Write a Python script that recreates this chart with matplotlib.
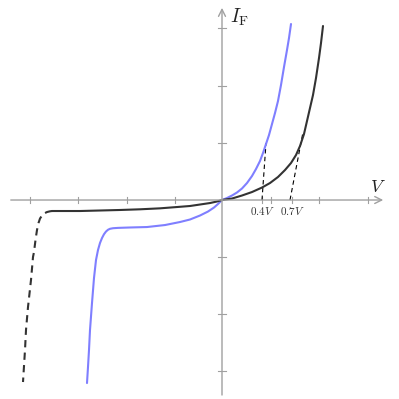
import matplotlib
matplotlib.use("Agg")
import matplotlib.pyplot as plt

plt.rcParams['mathtext.fontset'] = 'cm'

# Data (V in volts, I in arbitrary units)
black_fwd_v = [0, .10, .20, .30, .40, .48, .56, .63, .69, .74, .78, .82, .85, .88, .91, .94, .97, .99, 1.01]
black_fwd_i = [0, .026, .079, .140, .219, .298, .404, .526, .649, .789, .947, 1.158, 1.386, 1.614,
               1.842, 2.140, 2.491, 2.754, 3.053]
black_rev_v = [-1.70, -1.62, -1.42, -1.22, -1.02, -0.82, -0.62, -0.45, -0.32, -0.22, -0.12, -0.05, 0]
black_rev_i = [-0.193, -0.193, -0.193, -0.184, -0.175, -0.163, -0.146, -0.123, -0.105, -0.079,
               -0.053, -0.026, 0]
black_brk_v = [-1.70, -1.72, -1.75, -1.78, -1.80, -1.82, -1.835, -1.85, -1.865, -1.88, -1.89,
               -1.91, -1.94, -1.96, -1.97, -1.98, -1.99]
black_brk_i = [-0.193, -0.198, -0.211, -0.237, -0.272, -0.325, -0.404, -0.526, -0.702, -0.912,
               -1.000, -1.404, -1.877, -2.281, -2.632, -2.912, -3.193]

blue_v = [-1.35, -1.34, -1.33, -1.32, -1.30, -1.28, -1.26, -1.24, -1.22, -1.20, -1.18, -1.16, -1.14,
          -1.12, -1.09, -1.04, -0.92, -0.75, -0.57, -0.42, -0.32, -0.22, -0.14, -0.08, -0.04, 0,
          .05, .10, .15, .20, .25, .30, .34, .38, .41, .44, .47, .50, .53, .56, .59, .62, .65, .67, .69]
blue_i = [-3.211, -2.930, -2.632, -2.281, -1.807, -1.368, -1.053, -0.877, -0.754, -0.667, -0.600,
          -0.553, -0.522, -0.505, -0.495, -0.489, -0.482, -0.474, -0.439, -0.386, -0.342, -0.272,
          -0.202, -0.132, -0.070, 0,
          .035, .079, .132, .202, .298, .421, .544, .684, .825, .982, 1.140, 1.333, 1.526, 1.737,
          2.018, 2.333, 2.632, 2.842, 3.088]

tangent_blue_v = [0.40, 0.44]
tangent_blue_i = [0.0, 1.0]
tangent_black_v = [0.68, 0.81]
tangent_black_i = [0.0, 1.19]

xticks = [-1.92, -1.44, -0.95, -0.47, 0.49, 0.97, 1.46]
yticks = [-3.0, -2.0, -1.0, 1.0, 2.0, 3.02]
threshold_v = [0.4, 0.7]
threshold_labels = [r'$0.4V$', r'$0.7V$']

fig = plt.figure(figsize=(3.99, 3.99), dpi=100)
ax = fig.add_axes([0, 0, 1, 1])
ax.set_xlim(-2.22, 1.77)
ax.set_ylim(-3.491, 3.509)
ax.axis('off')

axc = '#a0a0a0'
# axes with arrows
ax.annotate('', xy=(1.64, 0), xytext=(-2.14, 0),
            arrowprops=dict(arrowstyle='->,head_length=0.5,head_width=0.25', color=axc, lw=1.0))
ax.annotate('', xy=(0, 3.42), xytext=(0, -3.47),
            arrowprops=dict(arrowstyle='->,head_length=0.5,head_width=0.25', color=axc, lw=1.0))

# ticks
for t in xticks + threshold_v:
    ax.plot([t, t], [-0.06, 0.06], color=axc, lw=0.8)
for t in yticks:
    ax.plot([-0.04, 0.04], [t, t], color=axc, lw=0.8)

# tangent dashed lines
ax.plot(tangent_blue_v, tangent_blue_i, color='black', lw=0.8, dashes=(4, 3))
ax.plot(tangent_black_v, tangent_black_i, color='black', lw=0.8, dashes=(4, 3))

# curves
ax.plot(blue_v, blue_i, color='#7f7fff', lw=1.5, solid_capstyle='round', solid_joinstyle='round')
ax.plot(black_fwd_v, black_fwd_i, color='#333333', lw=1.5, solid_capstyle='round', solid_joinstyle='round')
ax.plot(black_rev_v, black_rev_i, color='#333333', lw=1.5, solid_capstyle='round', solid_joinstyle='round')
ax.plot(black_brk_v, black_brk_i, color='#333333', lw=1.5, dashes=(3.5, 2.5))

# labels
for v, lab in zip(threshold_v, threshold_labels):
    ax.text(v, -0.2, lab, ha='center', va='center', fontsize=8, color='#333333')
ax.text(0.08, 3.2, r'$I_\mathrm{F}$', ha='left', va='center', fontsize=14, color='#222222')
ax.text(1.56, 0.23, r'$V$', ha='center', va='center', fontsize=13, color='#222222')

fig.savefig('out.png', dpi=100)
